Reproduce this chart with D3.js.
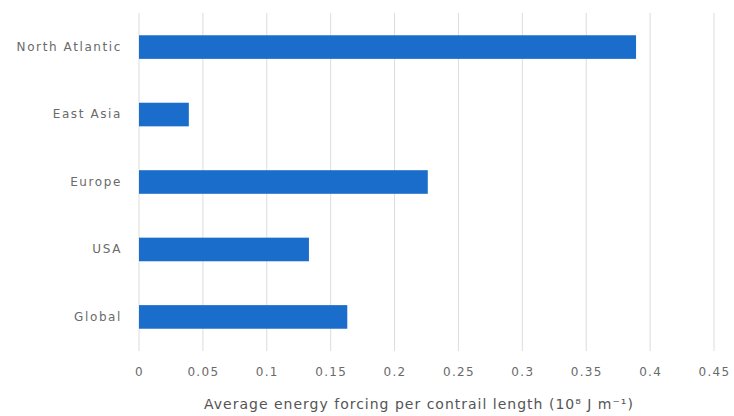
<!DOCTYPE html>
<html><head><meta charset="utf-8">
<script src="https://cdn.jsdelivr.net/npm/d3@7/dist/d3.min.js"></script>
<style>body{margin:0;background:#fff;} svg{display:block;}</style>
</head><body>
<svg id="chart" width="734" height="416"></svg>
<script>
const categories = ["North Atlantic", "East Asia", "Europe", "USA", "Global"];
const values = [0.389, 0.039, 0.226, 0.133, 0.163];
const tickValues = [0, 0.05, 0.1, 0.15, 0.2, 0.25, 0.3, 0.35, 0.4, 0.45];
const tickLabels = ["0", "0.05", "0.1", "0.15", "0.2", "0.25", "0.3", "0.35", "0.4", "0.45"];
const xTitle = "Average energy forcing per contrail length (10\u2078 J m\u207B\u00B9)";

const svg = d3.select("#chart");
const font = "'DejaVu Sans', sans-serif";
const m = {left: 139, right: 734 - 714, top: 13, bottom: 416 - 351};
const W = 734, H = 416;

const x = d3.scaleLinear().domain([0, 0.45]).range([m.left, W - m.right]);
const y = d3.scaleBand().domain(categories).range([m.top, H - m.bottom]).paddingInner(0.65).paddingOuter(0.33);

// gridlines
svg.append("g").selectAll("line").data(tickValues).join("line")
  .attr("x1", d => x(d)).attr("x2", d => x(d))
  .attr("y1", m.top).attr("y2", H - m.bottom)
  .attr("stroke", "#dcdcdc").attr("stroke-width", 1);

// bars
svg.append("g").selectAll("rect").data(values).join("rect")
  .attr("x", x(0)).attr("y", (d, i) => y(categories[i]))
  .attr("width", d => x(d) - x(0)).attr("height", y.bandwidth())
  .attr("fill", "#1b6dcb");

// y axis labels
const yAxis = d3.axisLeft(y).tickSize(0).tickPadding(17);
const gy = svg.append("g").attr("transform", `translate(${m.left},0)`).call(yAxis);
gy.select(".domain").remove();
gy.selectAll("text").attr("font-family", font).attr("font-size", 12)
  .attr("letter-spacing", 1.6).attr("fill", "#6a6a6a");

// x axis labels
const xAxis = d3.axisBottom(x).tickValues(tickValues).tickFormat((d, i) => tickLabels[i]).tickSize(0).tickPadding(16);
const gx = svg.append("g").attr("transform", `translate(0,${H - m.bottom})`).call(xAxis);
gx.select(".domain").remove();
gx.selectAll("text").attr("font-family", font).attr("font-size", 12)
  .attr("letter-spacing", 1.3).attr("fill", "#6a6a6a");

// x title
svg.append("text").attr("x", 419).attr("y", 409)
  .attr("text-anchor", "middle").attr("font-family", font).attr("font-size", 14)
  .attr("letter-spacing", 1.0).attr("fill", "#555").text(xTitle);
</script>
</body></html>
